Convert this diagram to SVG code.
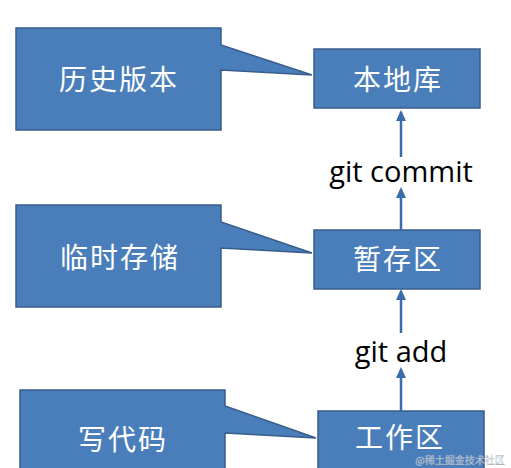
<svg xmlns="http://www.w3.org/2000/svg" width="511" height="468" viewBox="0 0 511 468">
<style>
.shape{fill:#4A7EBB;stroke:#385D8A;stroke-width:1.5;stroke-linejoin:miter}
.cjk{font-family:"Noto Sans CJK SC","Liberation Sans",sans-serif;font-size:28px;fill:#ffffff;text-anchor:middle;letter-spacing:2px}
.lbl{font-family:"Open Sans","Liberation Sans",sans-serif;font-size:29px;fill:#000000;text-anchor:middle}
.conn{stroke:#3A6BAA;stroke-width:2.5;fill:none}
.head{fill:#3A6BAA}
</style>
<rect width="511" height="468" fill="#ffffff"/>
<g id="callout-history">
<path class="shape" d="M16,28 H221 V45 L312,75 L221,70 V130 H16 Z"/>
<text class="cjk" x="119" y="90">历史版本</text>
</g>
<g id="callout-temp">
<path class="shape" d="M16,205 H221 V222 L312,253 L221,248 V307 H16 Z"/>
<text class="cjk" x="120" y="268">临时存储</text>
</g>
<g id="callout-code">
<path class="shape" d="M20,390 H225 V406 L316,438 L225,433 V472 H20 Z"/>
<text class="cjk" x="123" y="450">写代码</text>
</g>
<g id="node-repo">
<rect class="shape" x="314" y="49" width="166" height="59"/>
<text class="cjk" x="398" y="90">本地库</text>
</g>
<g id="node-stage">
<rect class="shape" x="314" y="230" width="166" height="59"/>
<text class="cjk" x="398" y="270">暂存区</text>
</g>
<g id="node-work">
<rect class="shape" x="318" y="411" width="166" height="62"/>
<text class="cjk" x="400" y="448">工作区</text>
</g>
<g id="connectors">
<line class="conn" x1="401" y1="157" x2="401" y2="112"/>
<path class="head" d="M396,121 L401,110 L406,121 Z"/>
<line class="conn" x1="401" y1="230" x2="401" y2="190"/>
<path class="head" d="M396,198 L401,187 L406,198 Z"/>
<line class="conn" x1="401" y1="333" x2="401" y2="292"/>
<path class="head" d="M396,300 L401,289 L406,300 Z"/>
<line class="conn" x1="401" y1="411" x2="401" y2="370"/>
<path class="head" d="M396,378 L401,367 L406,378 Z"/>
<text class="lbl" x="401" y="182">git commit</text>
<text class="lbl" x="401" y="362">git add</text>
</g>
<text x="460" y="464" font-family="Noto Sans CJK SC, sans-serif" font-size="10" fill="#ffffff" fill-opacity="0.7" stroke="#9aa8b8" stroke-width="0.3" text-anchor="middle">@稀土掘金技术社区</text>
</svg>
